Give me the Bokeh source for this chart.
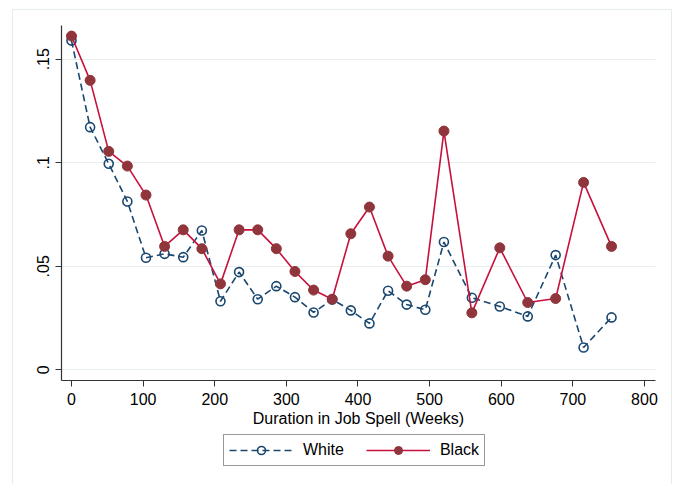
from bokeh.plotting import figure
from bokeh.layouts import column
from bokeh.models import (ColumnDataSource, FixedTicker, CustomJSTickFormatter, Legend,
                          LegendItem, Range1d)
from bokeh.embed import file_html
from bokeh.resources import INLINE

# Data
weeks = [0, 26, 52, 78, 104, 130, 156, 182, 208, 234, 260, 286, 312, 338, 364, 390,
         416, 442, 468, 494, 520, 559, 598, 637, 676, 715, 754]
white = [0.159, 0.1172, 0.0995, 0.0813, 0.0541, 0.056, 0.0544, 0.0673, 0.0331, 0.0472,
         0.0341, 0.0404, 0.0351, 0.0277, 0.034, 0.0287, 0.0224, 0.0382, 0.0315, 0.029,
         0.0617, 0.0348, 0.0306, 0.0258, 0.0554, 0.0108, 0.0253]
black = [0.1612, 0.1398, 0.1055, 0.0984, 0.0844, 0.0596, 0.0676, 0.0585, 0.0415, 0.0676,
         0.0676, 0.0585, 0.0475, 0.0385, 0.0341, 0.0657, 0.0786, 0.0549, 0.0404, 0.0435,
         0.1153, 0.0275, 0.0589, 0.0325, 0.0344, 0.0905, 0.0596]
x_ticks = [0, 100, 200, 300, 400, 500, 600, 700, 800]
y_ticks = [0, 0.05, 0.1, 0.15]
x_label = "Duration in Job Spell (Weeks)"
series_labels = ["White", "Black"]

FONT = "Liberation Sans"
NAVY = "#1a476f"
RED = "#c8103c"
MAROON = "#90353b"
FRAME = "#e4ecee"

src = ColumnDataSource(dict(x=weeks, w=white, b=black))


def add_series(fig):
    wl = fig.line("x", "w", source=src, line_color=NAVY, line_width=1.6, line_dash="7 4")
    wm = fig.scatter("x", "w", source=src, marker="circle", size=9, fill_color=None,
                     line_color=NAVY, line_width=1.6)
    bl = fig.line("x", "b", source=src, line_color=RED, line_width=1.6)
    bm = fig.scatter("x", "b", source=src, marker="circle", size=10, fill_color=MAROON,
                     line_color=MAROON)
    return (wl, wm), (bl, bm)


p = figure(width=681, height=432, output_backend="svg", toolbar_location=None,
           x_range=Range1d(-13.96, 815.4), y_range=Range1d(-0.00517, 0.1663),
           min_border_left=61, min_border_right=26, min_border_top=25, min_border_bottom=52)
p.outline_line_color = None
p.background_fill_alpha = 0
p.border_fill_alpha = 0

for ax in (p.xaxis[0], p.yaxis[0]):
    ax.axis_line_color = "#333333"
    ax.axis_line_width = 1.2
    ax.major_tick_line_color = "#333333"
    ax.major_tick_out = 6
    ax.major_tick_in = 0
    ax.minor_tick_line_color = None
    ax.major_label_text_font = FONT
    ax.major_label_text_font_size = "16px"
    ax.major_label_text_color = "black"

p.xaxis.ticker = FixedTicker(ticks=x_ticks)
p.xaxis.axis_label = x_label
p.xaxis.axis_label_text_font = FONT
p.xaxis.axis_label_text_font_size = "16px"
p.xaxis.axis_label_text_font_style = "normal"
p.xaxis.axis_label_text_color = "black"
p.xaxis.axis_label_standoff = 2
p.xaxis.major_label_standoff = 6

p.yaxis.ticker = FixedTicker(ticks=y_ticks)
p.yaxis.formatter = CustomJSTickFormatter(code="""
    if (Math.abs(tick) < 1e-9) return "0";
    var s = tick.toFixed(2).replace(/^0/, "");
    if (s.endsWith("0")) s = s.slice(0, -1);
    return s;
""")
p.yaxis.major_label_orientation = "vertical"
p.yaxis.major_label_standoff = 6

p.xgrid.grid_line_color = None
p.ygrid.grid_line_color = "#e6eef0"
p.ygrid.grid_line_width = 1.2

add_series(p)

# legend strip below the plot (series drawn outside its visible range)
leg_fig = figure(width=681, height=52, output_backend="svg", toolbar_location=None,
                 x_axis_type=None, y_axis_type=None,
                 x_range=Range1d(-2000, -1999), y_range=Range1d(0, 1),
                 min_border_left=0, min_border_right=0, min_border_top=0, min_border_bottom=0)
leg_fig.outline_line_color = None
leg_fig.background_fill_alpha = 0
leg_fig.border_fill_alpha = 0
w_r, b_r = add_series(leg_fig)

legend = Legend(items=[LegendItem(label=series_labels[0], renderers=list(w_r)),
                       LegendItem(label=series_labels[1], renderers=list(b_r))],
                orientation="horizontal", location=(162, 18),
                label_text_font=FONT, label_text_font_size="16px", label_text_color="black",
                glyph_width=64, glyph_height=20, label_height=20, label_standoff=10,
                spacing=22, padding=5, margin=0,
                border_line_color="#333333", border_line_width=1.2,
                background_fill_color="white", background_fill_alpha=1)
leg_fig.add_layout(legend)

bg = (f"linear-gradient({FRAME},{FRAME}) 12px 9px / 1px 700px no-repeat, "
      f"linear-gradient({FRAME},{FRAME}) 12px 9px / 660px 1px no-repeat, "
      f"linear-gradient({FRAME},{FRAME}) 671px 9px / 1px 700px no-repeat, white")
layout = column(p, leg_fig, spacing=0, styles={"background": bg})

open("out.html", "w").write(file_html(layout, INLINE))
